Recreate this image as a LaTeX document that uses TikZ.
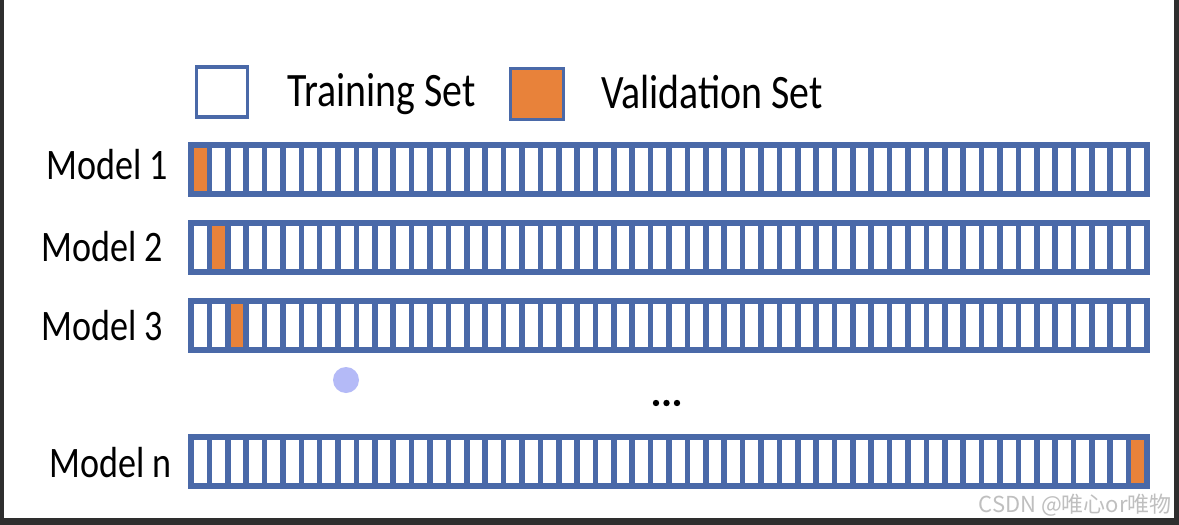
\documentclass[tikz,border=0pt]{standalone}
\usepackage{fontspec}
\setmainfont{Carlito}
\newfontfamily\labelfont[FakeStretch=0.83]{Carlito}
\newfontfamily\cjkfont{Noto Sans CJK SC}
\usetikzlibrary{positioning}
\definecolor{cellblue}{HTML}{4A69A8}
\definecolor{valorange}{HTML}{E8823A}
\definecolor{cursorblue}{HTML}{B4BAF7}
\definecolor{frame}{HTML}{2E2E2E}

\begin{document}
\begin{tikzpicture}[x=1pt, y=-1pt,
  cell/.style={draw=cellblue, line width=5.6pt, fill=white},
  valcell/.style={cell, fill=valorange},
  legendbox/.style={draw=cellblue, line width=3.8pt, minimum width=51pt, minimum height=50pt, inner sep=0pt},
  modellabel/.style={font=\labelfont\fontsize{43.5}{48}\selectfont, inner sep=0pt, anchor=base east},
  legendtext/.style={font=\labelfont\fontsize{48}{54}\selectfont, inner sep=0pt, anchor=base west}
]
\useasboundingbox (0,0) rectangle (1179,525);
\fill[white] (0,0) rectangle (1179,525);
% screenshot frame
\fill[frame] (0,0) rectangle (4,525);
\fill[frame] (1174,0) rectangle (1179,525);
\fill[frame] (0,518) rectangle (1179,525);
% legend
\node[legendbox, fill=white] (trainbox) at (222,92) {};
\node[legendbox, fill=valorange, minimum width=53pt, minimum height=51pt] (valbox) at (537,94) {};
\node[legendtext] (traintext) at (287,106) {Training Set};
\node[legendtext] (valtext) at (601,108) {Validation Set};
% folds: name/top/label baseline/label right/validation cell
\foreach \name/\ytop/\ybase/\xlab/\val/\txt in {one/145/179/168/1/1, two/223/261/163/2/2, three/301/340/163/3/3, last/437/477/172/52/n} {
  \foreach \i in {1,...,52}
    \draw[cell] ({191+(\i-1)*18.385},\ytop) rectangle ++(18.385,49);
  \draw[valcell] ({191+(\val-1)*18.385},\ytop) rectangle ++(18.385,49);
  \node[modellabel] (lbl\name) at (\xlab,\ybase) {Model \txt};
}
% gap between model 3 and model n
\foreach \x in {656,666.5,677}
  \fill[black] (\x,403) circle (3.2pt);
% cursor spot
\fill[cursorblue] (346,380) circle (13pt);
% watermark
\node[font=\cjkfont\fontsize{22}{24}\selectfont, text=black!25, inner sep=0pt, anchor=east] (wmark) at (1172,505) {CSDN @唯心or唯物};
\end{tikzpicture}
\end{document}
